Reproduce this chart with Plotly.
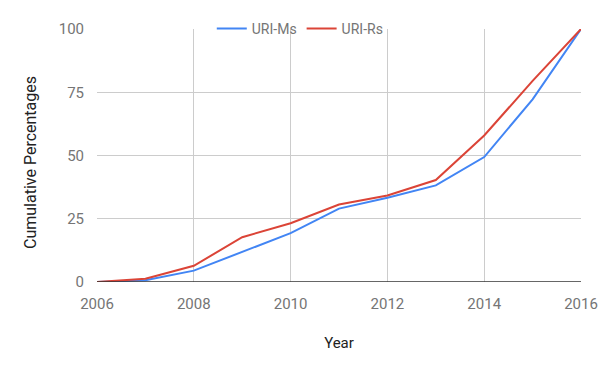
import plotly.graph_objects as go

years = [2006, 2007, 2008, 2009, 2010, 2011, 2012, 2013, 2014, 2015, 2016]
uri_ms = [0, 0.7, 4.5, 12.0, 19.3, 29.0, 33.3, 38.2, 49.4, 72.2, 100]
uri_rs = [0, 1.3, 6.4, 17.7, 23.2, 30.6, 34.2, 40.3, 57.9, 79.5, 100]
y_ticks = [0, 25, 50, 75, 100]
x_ticks = [2006, 2008, 2010, 2012, 2014, 2016]

fig = go.Figure()
fig.add_trace(go.Scatter(x=years, y=uri_ms, mode="lines", name="URI-Ms",
                         line=dict(color="#4285f4", width=2)))
fig.add_trace(go.Scatter(x=years, y=uri_rs, mode="lines", name="URI-Rs",
                         line=dict(color="#db4437", width=2)))

fig.update_layout(
    width=600, height=371,
    margin=dict(l=97, r=19, t=29, b=89),
    paper_bgcolor="white", plot_bgcolor="white",
    font=dict(family="Roboto", size=14, color="#222"),
    showlegend=True,
    legend=dict(orientation="h", x=0.42, xanchor="center", y=1.0, yanchor="middle",
                bgcolor="rgba(0,0,0,0)", font=dict(size=14, color="#757575"),
                itemwidth=30, tracegroupgap=0),
    xaxis=dict(range=[2006, 2016], tickvals=x_ticks, ticktext=[str(t) for t in x_ticks],
               showgrid=True, gridcolor="#cccccc", gridwidth=1,
               zeroline=False, showline=False, automargin=False,
               tickfont=dict(size=15, color="#757575"),
               ticks="outside", ticklen=8, tickcolor="rgba(0,0,0,0)",
               title=dict(text="Year", font=dict(size=15, color="#222"), standoff=25)),
    yaxis=dict(range=[0, 100], tickvals=y_ticks, ticktext=[str(t) for t in y_ticks],
               showgrid=True, gridcolor="#cccccc", gridwidth=1,
               zeroline=False, showline=False, automargin=False,
               tickfont=dict(size=15, color="#757575"),
               ticks="outside", ticklen=9, tickcolor="rgba(0,0,0,0)"),
    annotations=[dict(text="Cumulative Percentages", xref="paper", yref="paper",
                      x=(30 - 97) / 484, y=(282 - 163) / 253, xanchor="center", yanchor="middle",
                      textangle=-90, showarrow=False,
                      font=dict(size=16, color="#222"))],
)
# baseline
fig.add_shape(type="line", xref="paper", yref="y", x0=0, x1=1, y0=0, y1=0,
              line=dict(color="#333333", width=1.5))

fig.write_html("out.html")
